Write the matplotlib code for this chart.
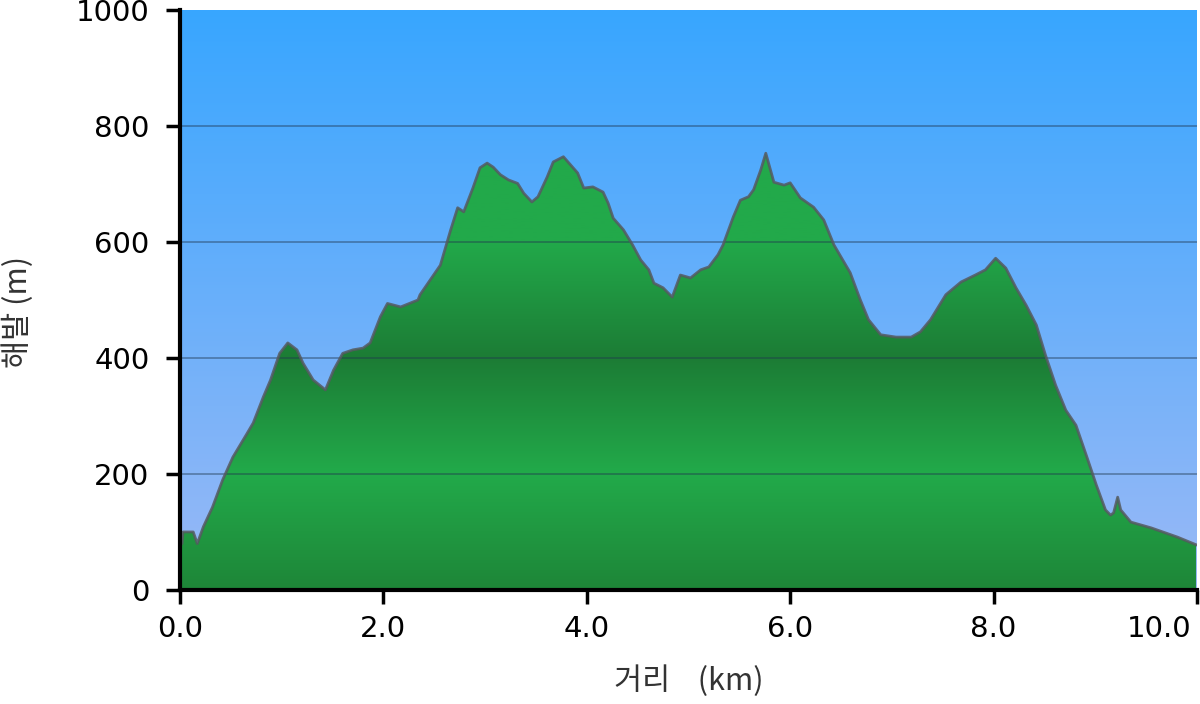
import numpy as np
import matplotlib.pyplot as plt
from matplotlib.colors import LinearSegmentedColormap
from matplotlib.patches import Polygon
from matplotlib.transforms import ScaledTranslation

# elevation profile
dist_km = [0.00, 0.02, 0.03, 0.13, 0.17, 0.23, 0.32, 0.42, 0.52, 0.66, 0.72, 0.82, 0.89, 0.98,
           1.06, 1.15, 1.21, 1.31, 1.43, 1.51, 1.60, 1.70, 1.80, 1.87, 1.97, 2.04, 2.17, 2.34,
           2.36, 2.56, 2.66, 2.73, 2.79, 2.88, 2.95, 3.02, 3.08, 3.15, 3.23, 3.32, 3.38, 3.46,
           3.52, 3.61, 3.67, 3.77, 3.84, 3.91, 3.97, 4.06, 4.16, 4.21, 4.26, 4.36, 4.45, 4.53,
           4.61, 4.66, 4.75, 4.84, 4.92, 5.02, 5.12, 5.20, 5.29, 5.34, 5.44, 5.51, 5.59, 5.64,
           5.71, 5.76, 5.84, 5.94, 6.00, 6.10, 6.23, 6.33, 6.43, 6.59, 6.69, 6.77, 6.89, 7.04,
           7.19, 7.28, 7.38, 7.53, 7.68, 7.82, 7.92, 8.02, 8.12, 8.22, 8.32, 8.42, 8.51, 8.61,
           8.71, 8.81, 8.91, 9.01, 9.10, 9.15, 9.18, 9.22, 9.25, 9.35, 9.55, 9.81, 9.99]
elev_m = [78, 80, 100, 100, 80, 109, 143, 190, 229, 270, 288, 333, 362, 408,
          426, 414, 391, 362, 345, 379, 408, 414, 417, 426, 471, 494, 488, 500,
          509, 560, 620, 659, 652, 693, 728, 736, 729, 716, 707, 701, 684, 669,
          678, 712, 738, 747, 733, 719, 693, 695, 686, 667, 641, 621, 595, 569,
          552, 529, 521, 505, 543, 538, 552, 557, 578, 595, 643, 672, 678, 690,
          724, 753, 703, 698, 702, 676, 660, 638, 595, 547, 500, 466, 440, 436,
          436, 445, 466, 509, 531, 543, 552, 572, 555, 521, 491, 457, 405, 353,
          310, 284, 233, 181, 138, 129, 133, 160, 138, 117, 107, 91, 78]

x_ticks = [0, 2, 4, 6, 8, 10]
y_ticks = [0, 200, 400, 600, 800, 1000]

fig = plt.figure(figsize=(12, 7.04), dpi=100)
ax = fig.add_axes([0.15, 0.162, 0.8475, 0.8238])
ax.set_xlim(0, 10.0)
ax.set_ylim(0, 1000)

# sky background
sky = LinearSegmentedColormap.from_list('sky', ['#9ab9f6', '#38a6ff'])
grad = np.linspace(0, 1, 256).reshape(-1, 1)
ax.imshow(grad, cmap=sky, origin='lower', aspect='auto',
          extent=[0, 10.0, 0, 1000], zorder=0)

# green fill with banded gradient, clipped to the profile
green = LinearSegmentedColormap.from_list(
    'green', [(0.0, '#1e8638'), (0.2, '#22aa4a'), (0.4, '#1c7c35'),
              (0.6, '#22a94a'), (1.0, '#22a94a')])
verts = [(dist_km[0], 0)] + list(zip(dist_km, elev_m)) + [(dist_km[-1], 0)]
poly = Polygon(verts, closed=True, facecolor='none', edgecolor='none')
ax.add_patch(poly)
im = ax.imshow(grad, cmap=green, origin='lower', aspect='auto',
               extent=[0, 10.0, 0, 1000], zorder=1)
im.set_clip_path(poly)
ax.plot(dist_km, elev_m, color='#555a60', lw=2, alpha=0.85, zorder=3)

# grid
for yv in y_ticks[1:-1]:
    ax.axhline(yv, color='#203850', lw=1.3, alpha=0.45, zorder=2)

ax.set_xticks(x_ticks)
ax.set_xticklabels([f'{v:.1f}' for v in x_ticks])
ax.set_yticks(y_ticks)
ax.tick_params(direction='out', length=10, width=2.5, labelsize=21, colors='black')
ax.tick_params(axis='y', pad=12)
ax.tick_params(axis='x', pad=8)
# last x label pulled inside the figure, as in the original
last = ax.get_xticklabels()[-1]
last.set_transform(last.get_transform() + ScaledTranslation(-0.38, 0, fig.dpi_scale_trans))

for side in ['top', 'right']:
    ax.spines[side].set_visible(False)
for side in ['left', 'bottom']:
    ax.spines[side].set_linewidth(3)
    ax.spines[side].set_zorder(5)

fam = ['Noto Sans CJK KR', 'DejaVu Sans']
ax.set_xlabel('거리    (km)', fontsize=22, color='#333333', family=fam, labelpad=16)
ax.set_ylabel('해발 (m)', fontsize=22, color='#333333', family=fam, va='center')
ax.yaxis.set_label_coords(-0.159, 0.48)

fig.savefig('out.png', dpi=100)
